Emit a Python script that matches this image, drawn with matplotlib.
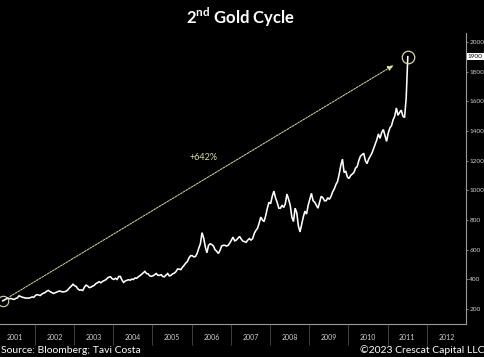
import numpy as np
import matplotlib
matplotlib.use('Agg')
import matplotlib.pyplot as plt
import matplotlib.transforms as mtransforms

plt.rcParams['font.family'] = ['Lato', 'DejaVu Sans']
plt.rcParams['mathtext.fontset'] = 'custom'
plt.rcParams['mathtext.rm'] = 'Lato:bold'

# gold price, two readings per month, starting April 2001
start_year = 2001.18
gold = {
    2001: [256, 262, 268, 276, 270, 272, 268, 266, 272, 276, 290, 285,
           280, 278, 274, 275, 274, 278],
    2002: [282, 280, 292, 298, 295, 292, 302, 308, 312, 322, 326, 318,
           312, 306, 310, 314, 320, 322, 318, 316, 318, 322, 332, 345],
    2003: [355, 368, 358, 352, 336, 328, 330, 326, 348, 362, 356, 345,
           348, 355, 360, 372, 378, 385, 378, 386, 392, 397, 408, 416],
    2004: [418, 405, 400, 408, 400, 420, 420, 396, 380, 390, 394, 398,
           395, 402, 400, 410, 408, 418, 425, 435, 445, 454, 440, 438],
    2005: [424, 421, 425, 432, 440, 428, 428, 432, 420, 418, 430, 440,
           424, 428, 438, 442, 452, 470, 470, 466, 482, 495, 510, 520],
    2006: [545, 560, 560, 552, 555, 575, 610, 640, 715, 680, 620, 580,
           630, 640, 635, 625, 600, 590, 575, 595, 625, 630, 630, 625],
    2007: [630, 645, 665, 685, 660, 665, 678, 690, 672, 658, 655, 650,
           665, 675, 665, 675, 710, 730, 745, 780, 820, 800, 790, 830],
    2008: [880, 920, 910, 960, 995, 950, 920, 880, 880, 900, 885, 910,
           975, 940, 900, 820, 790, 880, 850, 760, 720, 770, 820, 860],
    2009: [840, 900, 940, 980, 930, 920, 900, 880, 920, 960, 950, 930,
           930, 950, 940, 960, 990, 1010, 1040, 1060, 1110, 1170, 1210, 1120],
    2010: [1130, 1090, 1080, 1100, 1110, 1120, 1150, 1160, 1200, 1230, 1240, 1250,
           1200, 1180, 1210, 1230, 1250, 1280, 1310, 1340, 1380, 1350, 1390, 1410],
    2011: [1370, 1330, 1385, 1420, 1435, 1475, 1500, 1555, 1505, 1525, 1540, 1500,
           1490, 1620, 1900],
}
years = list(range(2001, 2013))
y_ticks = list(range(200, 2001, 200))
title = r'2$^{\rm nd}$ Gold Cycle'
source = 'Source: Bloomberg; Tavi Costa'
credit = '\u00a92023 Crescat Capital LLC'

values = np.concatenate([gold[y] for y in sorted(gold)])
x = start_year + np.arange(len(values)) / 24.0

fig = plt.figure(figsize=(4.85, 3.57), dpi=100, facecolor='black')
ax = fig.add_axes([0.0, 0.0924, 0.961, 0.8153])
ax.set_facecolor('black')

ax.plot(x, values, color='white', lw=1.15, solid_joinstyle='miter')

ax.set_xlim(2001.11, 2013.0)
ax.set_ylim(100, 2060)

for side in ['left', 'top']:
    ax.spines[side].set_visible(False)
for side in ['right', 'bottom']:
    ax.spines[side].set_color('#9a9a9a')
    ax.spines[side].set_linewidth(0.8)

# year separators and centered year labels
ax.set_xticks(years[1:])
ax.set_xticklabels([])
ax.set_xticks([y + 0.5 for y in years], minor=True)
ax.set_xticklabels([str(y) for y in years], minor=True)
ax.tick_params(axis='x', which='major', length=15, width=0.6, color='#4a4a4a')
ax.tick_params(axis='x', which='minor', length=0, pad=7, labelsize=5,
               labelcolor='#d0d0d0')

ax.yaxis.tick_right()
ax.set_yticks(y_ticks)
ax.set_yticklabels([str(v) for v in y_ticks])
ax.tick_params(axis='y', length=1.5, width=0.6, color='#9a9a9a', pad=0.8,
               labelsize=4.6, labelcolor='#d0d0d0')

# highlighted last value on the axis
trans = mtransforms.blended_transform_factory(ax.transAxes, ax.transData)
ax.text(1.004, values[-1], f'{values[-1]:.0f}', transform=trans, fontsize=4.6,
        color='black', va='center', ha='left',
        bbox=dict(boxstyle='square,pad=0.2', fc='white', ec='none'))

# start / end circles and the move arrow
ax.plot([x[0]], [values[0]], 'o', ms=7.5, mfc='none', mec='#d8d8a0', mew=0.8)
ax.plot([x[-1]], [values[-1]], 'o', ms=9, mfc='none', mec='#d8d8a0', mew=0.9)
ax.annotate('', xy=(x[-1], values[-1]), xytext=(x[0], values[0]),
            arrowprops=dict(arrowstyle='-|>,head_length=0.35,head_width=0.15',
                            color='#e0e0a0', lw=0.7, linestyle=(0, (2, 1.2)),
                            shrinkA=6, shrinkB=12))
pct = (values[-1] / values[0] - 1) * 100
ax.text(2006.3, 1220, f'+{pct:.0f}%', color='#dede9a', fontsize=6.5,
        ha='center', va='center')

fig.text(0.495, 0.952, title, color='white', fontsize=12, fontweight='bold',
         ha='center', va='center')
fig.text(0.002, 0.012, source, color='white', fontsize=7.5, ha='left',
         va='baseline')
fig.text(0.998, 0.012, credit, color='white', fontsize=7.5, ha='right',
         va='baseline')

fig.savefig('out.png', dpi=100, facecolor='black')
